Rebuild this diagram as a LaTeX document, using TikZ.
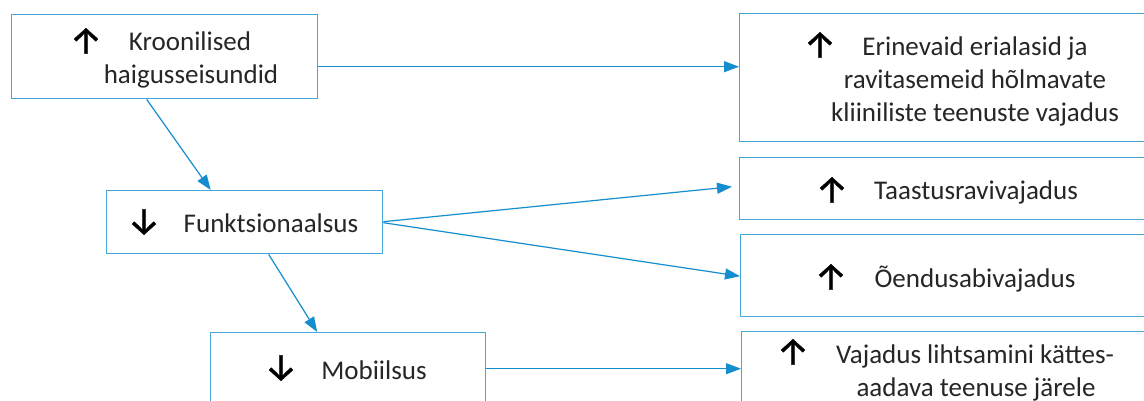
\documentclass[tikz,border=0pt]{standalone}
\usepackage{fontspec}
\setmainfont{Carlito}
\newfontfamily\arrfont[FakeBold=1]{Fira Sans}
\usetikzlibrary{arrows.meta}
\definecolor{boxblue}{RGB}{70,168,218}
\definecolor{linkblue}{RGB}{20,142,206}
\tikzset{
  box/.style={draw=boxblue, line width=1.4pt, rectangle, inner sep=0pt, anchor=north west},
  txt/.style={anchor=base, inner sep=0pt, font=\fontsize{27}{32}\selectfont, text=black!85},
  arr/.style={anchor=center, inner sep=0pt, font=\arrfont\fontsize{38}{40}\selectfont},
  link/.style={draw=linkblue, line width=1.2pt, -{Triangle[length=15pt,width=11pt]}}
}
\begin{document}
\begin{tikzpicture}[x=1pt,y=-1pt]
\useasboundingbox (0,0) rectangle (1144,401);
\clip (0,0) rectangle (1144,401);
\fill[white] (0,0) rectangle (1144,401);
% boxes
\node[box, minimum width=306pt, minimum height=84pt] (b1) at (11,14) {};
\node[box, minimum width=480pt, minimum height=128pt] (b2) at (739,13) {};
\node[box, minimum width=480pt, minimum height=62pt] (b3) at (739,157) {};
\node[box, minimum width=480pt, minimum height=82pt] (b4) at (740,234) {};
\node[box, minimum width=480pt, minimum height=110pt] (b5) at (741,331) {};
\node[box, minimum width=276pt, minimum height=63pt] (b6) at (106,190) {};
\node[box, minimum width=275pt, minimum height=110pt] (b7) at (210,332) {};
% texts
\node[arr] (a1) at (86,41) {↑};
\node[txt] (t1a) at (190,51) {Kroonilised};
\node[txt] (t1b) at (191,84) {haigusseisundid};
\node[arr] (a2) at (820,45) {↑};
\node[txt] (t2a) at (975,56) {Erinevaid erialasid ja};
\node[txt] (t2b) at (975,89) {ravitasemeid hõlmavate};
\node[txt] (t2c) at (975,122) {kliiniliste teenuste vajadus};
\node[arr] (a3) at (832,190) {↑};
\node[txt] (t3) at (976,200) {Taastusravivajadus};
\node[arr] (a4) at (831,277) {↑};
\node[txt] (t4) at (975,287) {Õendusabivajadus};
\node[arr] (a5) at (793,352) {↑};
\node[txt] (t5a) at (975,363) {Vajadus lihtsamini kättes-};
\node[txt] (t5b) at (976,396) {aadava teenuse järele};
\node[arr] (a6) at (144,222) {↓};
\node[txt] (t6) at (271,233) {Funktsionaalsus};
\node[arr] (a7) at (281,368) {↓};
\node[txt] (t7) at (374,379) {Mobiilsus};
% connectors
\draw[link] ([yshift=-10pt]b1.east) -- ([yshift=-10pt]b2.west |- b1.east);
\draw[link] ([xshift=-18pt]b1.south) -- ([xshift=-34pt]b6.north);
\draw[link] ([yshift=0.5pt]b6.east) -- ([xshift=-7pt,yshift=2pt]b3.west);
\draw[link] ([yshift=-0.5pt]b6.east) -- ([yshift=-0.5pt]b4.west);
\draw[link] ([xshift=24pt]b6.south) -- ([xshift=-31pt]b7.north);
\draw[link] ([yshift=19pt]b7.east) -- ([yshift=19pt]b7.east -| b5.west);
\end{tikzpicture}
\end{document}
